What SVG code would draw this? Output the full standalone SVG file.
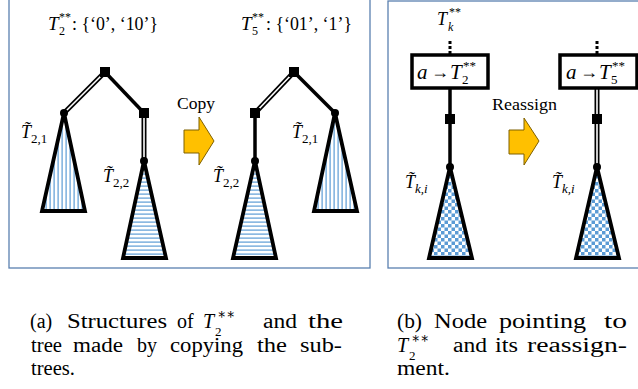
<svg xmlns="http://www.w3.org/2000/svg" width="638" height="389" viewBox="0 0 638 389">
<style>
.panel{fill:none;stroke:#5a80b0;stroke-width:1.3}
.thick{stroke:#000;stroke-width:3.5;fill:none}
.dblo{stroke:#000;stroke-width:5;fill:none}
.dbli{stroke:#fff;stroke-width:1.6;fill:none}
.tri{stroke:#000;stroke-width:3.8;stroke-linejoin:miter}
.sq{fill:#000}
.arrow{fill:#FFC000;stroke:#7f6000;stroke-width:1}
.m{font-family:"Liberation Serif","DejaVu Serif",serif;font-style:italic;fill:#000}
.r{font-family:"Liberation Serif","DejaVu Serif",serif;fill:#000}
.cap text{font-family:"Liberation Serif","DejaVu Serif",serif;font-size:20px;fill:#000}
</style>
<defs>
<pattern id="vl" patternUnits="userSpaceOnUse" width="4" height="10">
<rect width="4" height="10" fill="#fff"/>
<rect x="1.5" width="1.2" height="10" fill="#5B9BD5"/>
</pattern>
<pattern id="hl" patternUnits="userSpaceOnUse" width="10" height="4">
<rect width="10" height="4" fill="#fff"/>
<rect y="1.5" width="10" height="1.2" fill="#5B9BD5"/>
</pattern>
<pattern id="ck" patternUnits="userSpaceOnUse" width="7" height="7">
<rect width="7" height="7" fill="#fff"/>
<rect width="3.5" height="3.5" fill="#5B9BD5"/>
<rect x="3.5" y="3.5" width="3.5" height="3.5" fill="#5B9BD5"/>
</pattern>
</defs>

<rect class="panel" x="9" y="-2" width="361" height="270"/>
<rect class="panel" x="388" y="1" width="260" height="267"/>

<!-- titles -->
<g id="title-a1">
<text class="m" x="48" y="30" font-size="19">T</text>
<text class="r" x="59" y="35" font-size="12">2</text>
<text class="r" x="59" y="21" font-size="12">**</text>
<text class="r" x="72" y="30" font-size="18" textLength="86" lengthAdjust="spacingAndGlyphs">: {‘0’, ‘10’}</text>
</g>
<g id="title-a2">
<text class="m" x="241" y="30" font-size="19">T</text>
<text class="r" x="252" y="35" font-size="12">5</text>
<text class="r" x="252" y="21" font-size="12">**</text>
<text class="r" x="266" y="30" font-size="18" textLength="86" lengthAdjust="spacingAndGlyphs">: {‘01’, ‘1’}</text>
</g>
<g id="title-b">
<text class="m" x="437" y="25" font-size="18">T</text>
<text class="m" x="448" y="31" font-size="12">k</text>
<text class="r" x="449" y="16" font-size="12">**</text>
</g>

<!-- connectors -->
<g id="connectors">
<line class="dblo" x1="105" y1="72" x2="64" y2="113"/>
<line class="dbli" x1="105" y1="72" x2="64" y2="113"/>
<line class="thick" x1="105" y1="72" x2="144" y2="113"/>
<line class="dblo" x1="144" y1="113" x2="144" y2="161"/>
<line class="dbli" x1="144" y1="113" x2="144" y2="161"/>

<line class="dblo" x1="294" y1="72" x2="255" y2="113"/>
<line class="dbli" x1="294" y1="72" x2="255" y2="113"/>
<line class="thick" x1="294" y1="72" x2="335" y2="113"/>
<line class="thick" x1="255" y1="113" x2="255" y2="161"/>

<line x1="450" y1="41" x2="450" y2="55" stroke="#000" stroke-width="3" stroke-dasharray="3 2"/>
<line class="thick" x1="450" y1="88" x2="450" y2="167"/>
<line x1="597" y1="41" x2="597" y2="55" stroke="#000" stroke-width="3" stroke-dasharray="3 2"/>
<line class="dblo" x1="597" y1="88" x2="597" y2="167"/>
<line class="dbli" x1="597" y1="88" x2="597" y2="167"/>
</g>

<!-- subtrees -->
<g id="T21-left">
<polygon class="tri" points="64,113 85,211 42,211" fill="url(#vl)"/>
<circle cx="64" cy="113" r="4"/>
<text class="m" x="21" y="138" font-size="18">T&#x303;</text>
<text class="r" x="31" y="143" font-size="13">2,1</text>
</g>
<g id="T22-left">
<polygon class="tri" points="144,161 166,258 123,258" fill="url(#hl)"/>
<circle cx="144" cy="161" r="4"/>
<text class="m" x="103" y="182" font-size="18">T&#x303;</text>
<text class="r" x="113" y="187" font-size="13">2,2</text>
</g>
<g id="root-left"><rect class="sq" x="100" y="67" width="10" height="10"/></g>
<g id="node-left-r"><rect class="sq" x="139" y="108" width="10" height="10"/></g>

<g id="T22-right">
<polygon class="tri" points="255,161 276,258 233,258" fill="url(#hl)"/>
<circle cx="255" cy="161" r="4"/>
<text class="m" x="213" y="182" font-size="18">T&#x303;</text>
<text class="r" x="223" y="187" font-size="13">2,2</text>
</g>
<g id="T21-right">
<polygon class="tri" points="335,113 357,211 314,211" fill="url(#vl)"/>
<circle cx="335" cy="113" r="4"/>
<text class="m" x="292" y="138" font-size="18">T&#x303;</text>
<text class="r" x="302" y="143" font-size="13">2,1</text>
</g>
<g id="root-right"><rect class="sq" x="289" y="67" width="10" height="10"/></g>
<g id="node-right-l"><rect class="sq" x="250" y="108" width="10" height="10"/></g>

<!-- copy arrow -->
<g id="copy">
<text class="r" x="177" y="109" font-size="17" textLength="38" lengthAdjust="spacingAndGlyphs">Copy</text>
<polygon class="arrow" points="184,130 199,130 199,117 214,141 199,165 199,153 184,153"/>
</g>

<!-- panel b -->
<g id="box-left">
<rect x="412" y="55" width="76" height="33" fill="#fff" stroke="#000" stroke-width="3.5"/>
<text class="m" x="417" y="79" font-size="21">a</text>
<text class="r" x="431" y="78" font-size="18">→</text>
<text class="m" x="450" y="79" font-size="21">T</text>
<text class="r" x="462" y="84" font-size="13">2</text>
<text class="r" x="463" y="70" font-size="13">**</text>
</g>
<g id="sq-b-left"><rect class="sq" x="445" y="114" width="10" height="10"/></g>
<g id="Tki-left">
<polygon class="tri" points="450,167 472,258 429,258" fill="url(#ck)"/>
<circle cx="450" cy="167" r="4"/>
<text class="m" x="405" y="188" font-size="18">T&#x303;</text>
<text class="m" x="415" y="193" font-size="13">k,i</text>
</g>

<g id="reassign">
<text class="r" x="492" y="110" font-size="17" textLength="65" lengthAdjust="spacingAndGlyphs">Reassign</text>
<polygon class="arrow" points="509,130 524,130 524,118 539,141 524,165 524,154 509,154"/>
</g>

<g id="box-right">
<rect x="560" y="55" width="77" height="33" fill="#fff" stroke="#000" stroke-width="3.5"/>
<text class="m" x="566" y="79" font-size="21">a</text>
<text class="r" x="580" y="78" font-size="18">→</text>
<text class="m" x="599" y="79" font-size="21">T</text>
<text class="r" x="611" y="84" font-size="13">5</text>
<text class="r" x="612" y="70" font-size="13">**</text>
</g>
<g id="sq-b-right"><rect class="sq" x="592" y="114" width="10" height="10"/></g>
<g id="Tki-right">
<polygon class="tri" points="597,167 619,258 576,258" fill="url(#ck)"/>
<circle cx="597" cy="167" r="4"/>
<text class="m" x="552" y="188" font-size="18">T&#x303;</text>
<text class="m" x="562" y="193" font-size="13">k,i</text>
</g>

<!-- captions -->
<g id="caption-a" class="cap">
<text x="30" y="328">(a)</text>
<text x="67" y="328" textLength="100" lengthAdjust="spacingAndGlyphs">Structures</text>
<text x="177" y="328">of</text>
<text x="203" y="328" font-style="italic">T</text>
<text x="215" y="336" style="font-size:13px">2</text>
<text x="217" y="319" style="font-size:15px" textLength="18" lengthAdjust="spacingAndGlyphs">∗∗</text>
<text x="263" y="328" textLength="34" lengthAdjust="spacingAndGlyphs">and</text>
<text x="308" y="328" textLength="35" lengthAdjust="spacingAndGlyphs">the</text>
<text x="31" y="352" textLength="31" lengthAdjust="spacingAndGlyphs">tree</text>
<text x="73" y="352" textLength="50" lengthAdjust="spacingAndGlyphs">made</text>
<text x="137" y="352" textLength="20" lengthAdjust="spacingAndGlyphs">by</text>
<text x="170" y="352" textLength="73" lengthAdjust="spacingAndGlyphs">copying</text>
<text x="257" y="352" textLength="30" lengthAdjust="spacingAndGlyphs">the</text>
<text x="300" y="352" textLength="42" lengthAdjust="spacingAndGlyphs">sub-</text>
<text x="31" y="375" textLength="44" lengthAdjust="spacingAndGlyphs">trees.</text>
</g>
<g id="caption-b" class="cap">
<text x="397" y="328" textLength="25" lengthAdjust="spacingAndGlyphs">(b)</text>
<text x="434" y="328" textLength="53" lengthAdjust="spacingAndGlyphs">Node</text>
<text x="499" y="328" textLength="87" lengthAdjust="spacingAndGlyphs">pointing</text>
<text x="604" y="328" textLength="23" lengthAdjust="spacingAndGlyphs">to</text>
<text x="397" y="352" font-style="italic">T</text>
<text x="409" y="360" style="font-size:13px">2</text>
<text x="411" y="343" style="font-size:15px" textLength="18" lengthAdjust="spacingAndGlyphs">∗∗</text>
<text x="453" y="352" textLength="34" lengthAdjust="spacingAndGlyphs">and</text>
<text x="495" y="352" textLength="23" lengthAdjust="spacingAndGlyphs">its</text>
<text x="527" y="352" textLength="100" lengthAdjust="spacingAndGlyphs">reassign-</text>
<text x="397" y="375" textLength="53" lengthAdjust="spacingAndGlyphs">ment.</text>
</g>
</svg>
